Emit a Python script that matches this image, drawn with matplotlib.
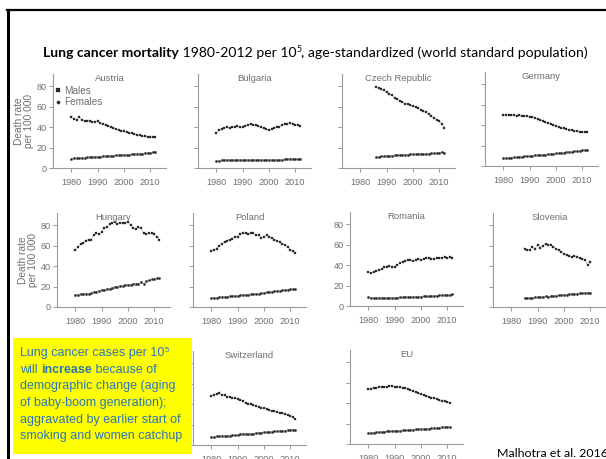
import matplotlib
matplotlib.use('Agg')
import matplotlib.pyplot as plt
from matplotlib import font_manager
from matplotlib.lines import Line2D
from matplotlib.patches import Rectangle
import numpy as np

W, H = 606, 459

_names = {f.name for f in font_manager.fontManager.ttflist}
NARROW = 'Liberation Sans Narrow' if 'Liberation Sans Narrow' in _names else 'Liberation Sans'
SLIDE = 'Lato'

# ---- data (death rate per 100 000) ----
austria_start = 1980
austria_m = [50, 48, 47, 50, 47, 46, 46, 46, 45, 45, 46, 44, 43, 42, 41, 40, 39, 38, 37,
             36, 36, 35, 34, 34, 33, 32, 32, 31, 31, 30, 30, 30, 30]
austria_f = [9, 9.5, 9.5, 10, 10, 10, 10.5, 10.5, 11, 11, 11, 11, 11.5, 11.5, 12, 12, 12,
             12.5, 12.5, 13, 13, 13, 13, 13.5, 13.5, 14, 14, 14, 14.5, 15, 15, 15.5, 16]

bulgaria_start = 1980
bulgaria_m = [34, 37, 38, 39, 40, 39, 40, 40, 41, 40, 40, 41, 42, 43, 42, 42, 41, 40, 39,
              38, 37, 38, 39, 40, 40, 42, 43, 43, 44, 43, 42, 42, 41]
bulgaria_f = [7, 7, 8, 8, 8, 8, 8, 8, 8, 8, 8, 8, 8, 8, 8, 8, 8, 8, 8, 8, 8, 8, 8, 8, 8,
              8, 9, 9, 9, 9, 9, 9, 9]

czech_start = 1986
czech_m = [79, 78, 77, 76, 74, 72, 71, 69, 68, 66, 65, 63, 63, 62, 61, 60, 59, 57, 56,
           55, 53, 51, 49, 47, 46, 43, 39]
czech_f = [11, 11, 11.5, 11.5, 12, 12, 12, 12.5, 12.5, 13, 13, 13, 13, 13.5, 13.5, 13.5,
           14, 14, 14, 14, 14, 14.5, 14.5, 14.5, 15, 15.5, 15]

germany_start = 1980
germany_m = [50, 50, 50, 50, 50, 49, 50, 49, 49, 49, 48, 48, 47, 46, 45, 44, 43, 42, 41,
             40, 39, 38, 37, 37, 36, 35, 35, 34, 34, 33, 33, 33, 33]
germany_f = [7.5, 7.7, 8, 8.2, 8.4, 8.6, 8.9, 9.1, 9.3, 9.6, 9.8, 10, 10.3, 10.5, 10.8, 11,
             11.2, 11.5, 11.8, 12, 12.3, 12.6, 12.9, 13.2, 13.5, 13.8, 14.1, 14.4, 14.7, 15,
             15.4, 15.7, 16]

hungary_start = 1980
hungary_m = [56, 59, 62, 63, 65, 66, 66, 70, 72, 71, 73, 77, 78, 81, 82, 83, 81, 82, 82,
             82, 83, 80, 77, 76, 78, 77, 72, 71, 72, 72, 71, 69, 66]
hungary_f = [12, 12, 13, 13, 13, 13, 14, 15, 15, 16, 17, 17, 18, 18, 19, 20, 20, 21, 21,
             22, 22, 22, 23, 23, 23, 24, 23, 25, 26, 27, 27, 28, 28]

poland_start = 1980
poland_m = [55, 56, 57, 60, 62, 64, 65, 66, 67, 69, 69, 71, 72, 72, 71, 72, 72, 70, 70,
            68, 69, 70, 69, 68, 66, 65, 64, 62, 61, 59, 56, 55, 53]
poland_f = [9, 9, 9, 9.5, 10, 10, 10, 10.5, 11, 11, 11, 11.5, 12, 12, 12, 12.5, 13, 13, 13,
            13.5, 14, 14.5, 15, 15, 15.5, 16, 16, 16.5, 17, 17, 17.5, 17.5, 17.5]

romania_start = 1980
romania_m = [33, 32, 33, 34, 35, 36, 38, 38, 39, 38, 38, 40, 42, 43, 44, 45, 45, 44, 45,
             46, 45, 46, 47, 47, 46, 46, 47, 47, 47, 48, 47, 48, 47]
romania_f = [9, 8, 8, 8, 8, 8, 8, 8, 8, 8, 8, 8, 8.5, 8.5, 9, 9, 9, 9, 9, 9, 9, 9.5, 9.5,
             9.5, 10, 10, 10, 10.5, 10.5, 10.5, 11, 11, 11.5]

slovenia_start = 1985
slovenia_m = [57, 56, 56, 59, 57, 61, 58, 60, 62, 61, 61, 59, 57, 56, 54, 52, 51, 50, 49,
              50, 49, 48, 47, 46, 41, 44]
slovenia_f = [9, 9, 8.5, 9, 9.5, 9.5, 10, 10, 10.5, 10, 10.5, 11, 11, 11.5, 11.5, 12, 12,
              12.5, 13, 12.5, 13, 13.5, 13.5, 14, 14, 14]

switzerland_start = 1980
switzerland_m = [48, 49, 50, 51, 49, 49, 47, 47, 46, 46, 45, 44, 43, 41, 40, 40, 39, 38, 37,
                 36, 36, 35, 34, 33, 33, 32, 31, 31, 30, 29, 28, 27, 25]
switzerland_f = [8, 8, 8.5, 8.5, 9, 9, 9, 9, 9.5, 9.5, 10, 11, 11, 11, 10.5, 11, 11, 12, 12,
                 12, 12.5, 12.5, 13, 13, 13.5, 13.5, 14, 14, 14, 14.5, 14.5, 15, 15]

eu_start = 1980
eu_m = [54, 54, 55, 55, 56, 56, 56, 56, 57, 57, 56, 56, 56, 55, 55, 54, 53, 52, 51, 50, 49,
        48, 47, 46, 45, 45, 44, 43, 42, 42, 41, 40]
eu_f = [11, 11, 11.2, 11.5, 11.7, 12, 12, 12.3, 12.5, 12.7, 13, 13, 13.2, 13.4, 13.6, 13.8,
        14, 14, 14.2, 14.4, 14.6, 14.8, 15, 15, 15.3, 15.5, 15.8, 16, 16.3, 16.6, 16.9, 17]

x_ticks = [1980, 1990, 2000, 2010]
y_ticks = [0, 20, 40, 60, 80]

GREY = '#6f6f6f'
AXIS = '#9a9a9a'

fig = plt.figure(figsize=(W / 100, H / 100), dpi=100)
fig.patch.set_facecolor('white')


def panel(x_px, base_px, title, start, males, females, numbers=False, ylabel=False, legend=False):
    w_px, h_px = 113, 94
    ax = fig.add_axes([x_px / W, 1 - base_px / H, w_px / W, h_px / H])
    yrs = np.arange(start, start + len(males))
    ax.plot(yrs, males, color='#b5b5b5', lw=0.5, marker='s', ms=1.8,
            mfc='#2a2a2a', mec='#2a2a2a', mew=0.2, label='Males')
    yrs = np.arange(start, start + len(females))
    ax.plot(yrs, females, color='#b5b5b5', lw=0.5, marker='o', ms=1.7,
            mfc='#2a2a2a', mec='#2a2a2a', mew=0.2, label='Females')
    ax.set_xlim(1973, 2016)
    ax.set_ylim(0, 92)
    ax.set_xticks(x_ticks)
    ax.set_yticks(y_ticks)
    if not numbers:
        ax.set_yticklabels([])
    ax.patch.set_alpha(0)
    for s in ('top', 'right'):
        ax.spines[s].set_visible(False)
    for s in ('left', 'bottom'):
        ax.spines[s].set_color(AXIS)
        ax.spines[s].set_linewidth(0.8)
    ax.tick_params(colors=AXIS, labelcolor=GREY, length=3, width=0.7, pad=1.5,
                   labelsize=6.6)
    for lab in ax.get_xticklabels() + ax.get_yticklabels():
        lab.set_family(NARROW)
    ax.tick_params(axis='x', pad=4)
    ax.text(0.5, 0.95, title, transform=ax.transAxes, ha='center', va='center',
            color=GREY, fontsize=6.8, family=NARROW)
    if ylabel:
        ax.set_ylabel('Death rate\nper 100 000', color=GREY, fontsize=7.3,
                      family=NARROW, labelpad=2, linespacing=1.0)
    if legend:
        ax.legend(loc='upper left', bbox_to_anchor=(-0.02, 0.93), frameon=False,
                  handlelength=0.4, handletextpad=0.4, labelspacing=0.15, borderpad=0,
                  prop={'family': NARROW, 'size': 7.2}, labelcolor=GREY, markerscale=1.4)
        for h in ax.get_legend().legend_handles:
            h.set_linestyle('none')
    return ax


panel(53, 168, 'Austria', austria_start, austria_m, austria_f, numbers=True, ylabel=True, legend=True)
panel(198, 168, 'Bulgaria', bulgaria_start, bulgaria_m, bulgaria_f)
panel(342, 168, 'Czech Republic', czech_start, czech_m, czech_f)
panel(485, 166, 'Germany', germany_start, germany_m, germany_f)
panel(57, 307, 'Hungary', hungary_start, hungary_m, hungary_f, numbers=True, ylabel=True)
panel(193, 307, 'Poland', poland_start, poland_m, poland_f)
panel(350, 306, 'Romania', romania_start, romania_m, romania_f, numbers=True)
panel(493, 307, 'Slovenia', slovenia_start, slovenia_m, slovenia_f)
panel(193, 445, 'Switzerland', switzerland_start, switzerland_m, switzerland_f)
panel(350, 444, 'EU', eu_start, eu_m, eu_f)

renderer = fig.canvas.get_renderer()


def runs(x, y, parts, size, family, color):
    # parts: (text, weight, superscript); x, y in pixels from top-left, y = baseline
    cur = x
    for txt, weight, sup in parts:
        s = size * 0.62 if sup else size
        yy = y - size * 0.5 if sup else y
        t = fig.text(cur / W, 1 - yy / H, txt, fontsize=s, weight=weight, family=family,
                     color=color, va='baseline', ha='left')
        cur += t.get_window_extent(renderer).width


# slide title
runs(43, 57, [('Lung cancer mortality', 'bold', False),
              (' 1980-2012 per 10', 'normal', False),
              ('5', 'normal', True),
              (', age-standardized (world standard population)', 'normal', False)],
     10.1, SLIDE, 'black')

# yellow note box
fig.patches.append(Rectangle((13 / W, 1 - 454 / H), 179 / W, 116 / H,
                             transform=fig.transFigure, facecolor='#ffff00',
                             edgecolor='none', zorder=0))
BLUE = '#2b77b5'
note = [
    [('Lung cancer cases per 10', 'normal', False), ('5', 'normal', True)],
    [('will ', 'normal', False), ('increase', 'bold', False), (' because of', 'normal', False)],
    [('demographic change (aging', 'normal', False)],
    [('of baby-boom generation);', 'normal', False)],
    [('aggravated by earlier start of', 'normal', False)],
    [('smoking and women catchup', 'normal', False)],
]
for i, line in enumerate(note):
    runs(20, 356 + i * 16.7, line, 9.0, NARROW, BLUE)

fig.text(497 / W, 1 - 457 / H, 'Malhotra et al. 2016', fontsize=8.9, family=SLIDE,
         color='black', va='baseline', ha='left')

# slide frame
fig.lines.append(Line2D([7 / W, 1], [1 - 10 / H, 1 - 10 / H], transform=fig.transFigure,
                        color='black', lw=1.6))
fig.lines.append(Line2D([7.5 / W, 7.5 / W], [1 - 10 / H, 0], transform=fig.transFigure,
                        color='black', lw=2.2))

fig.savefig('out.png', dpi=100)
